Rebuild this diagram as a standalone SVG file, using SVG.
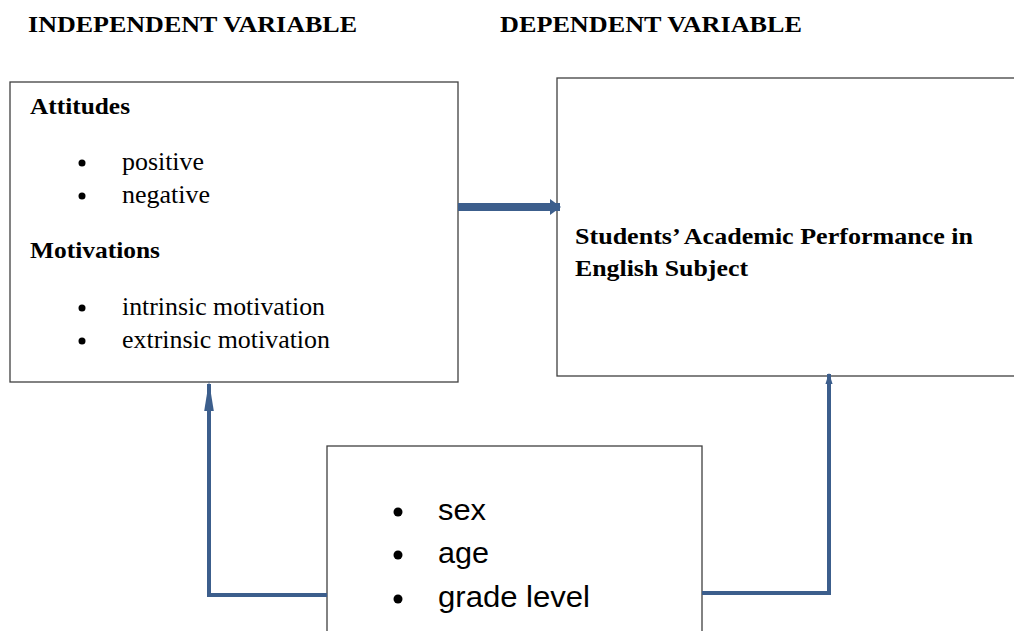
<svg xmlns="http://www.w3.org/2000/svg" width="1014" height="631" viewBox="0 0 1014 631">
<style>
.box{fill:#fff;stroke:#404040;stroke-width:1.3}
.hdr{font-family:"Liberation Serif",serif;font-weight:bold;font-size:24px;fill:#000}
.ttl{font-family:"Liberation Serif",serif;font-weight:bold;font-size:24px;fill:#000}
.itm{font-family:"Liberation Serif",serif;font-size:25px;fill:#000}
.sans{font-family:"Liberation Sans",Arial,sans-serif;font-size:30px;fill:#000}
.con{fill:none;stroke:#3C5E8C;stroke-width:4}
</style>
<defs>
<marker id="ahL" viewBox="0 0 10 10" refX="9" refY="5" markerWidth="7.5" markerHeight="2.4" orient="auto" markerUnits="strokeWidth" preserveAspectRatio="none">
<path d="M0,0 L10,5 L0,10 z" fill="#3C5E8C"/>
</marker>
<marker id="ahR" viewBox="0 0 10 10" refX="9" refY="5" markerWidth="2.8" markerHeight="1.8" orient="auto" markerUnits="strokeWidth" preserveAspectRatio="none">
<path d="M0,0 L10,5 L0,10 z" fill="#3C5E8C"/>
</marker>
<marker id="ah2" viewBox="0 0 10 10" refX="9" refY="5" markerWidth="1.4" markerHeight="2" orient="auto" markerUnits="strokeWidth" preserveAspectRatio="none">
<path d="M0,0 L10,5 L0,10 z" fill="#3C5E8C"/>
</marker>
</defs>
<rect width="1014" height="631" fill="#fff"/>
<g id="headers">
<text class="hdr" x="28" y="32" textLength="329" lengthAdjust="spacingAndGlyphs">INDEPENDENT VARIABLE</text>
<text class="hdr" x="500" y="32" textLength="302" lengthAdjust="spacingAndGlyphs">DEPENDENT VARIABLE</text>
</g>
<g id="independent">
<rect class="box" x="10" y="82" width="448" height="300"/>
<text class="ttl" x="30" y="114" textLength="100" lengthAdjust="spacingAndGlyphs">Attitudes</text>
<circle cx="82" cy="163" r="3.5"/>
<text class="itm" x="122" y="170" textLength="82" lengthAdjust="spacingAndGlyphs">positive</text>
<circle cx="82" cy="196" r="3.5"/>
<text class="itm" x="122" y="203" textLength="88" lengthAdjust="spacingAndGlyphs">negative</text>
<text class="ttl" x="30" y="258" textLength="130" lengthAdjust="spacingAndGlyphs">Motivations</text>
<circle cx="82" cy="308" r="3.5"/>
<text class="itm" x="122" y="315" textLength="203" lengthAdjust="spacingAndGlyphs">intrinsic motivation</text>
<circle cx="82" cy="341" r="3.5"/>
<text class="itm" x="122" y="348" textLength="208" lengthAdjust="spacingAndGlyphs">extrinsic motivation</text>
</g>
<g id="dependent">
<rect class="box" x="557" y="78" width="470" height="298"/>
<text class="ttl" x="575" y="244" textLength="398" lengthAdjust="spacingAndGlyphs">Students’ Academic Performance in</text>
<text class="ttl" x="575" y="276" textLength="173" lengthAdjust="spacingAndGlyphs">English Subject</text>
</g>
<g id="moderators">
<rect class="box" x="327" y="446" width="375" height="200"/>
<circle cx="398" cy="512" r="4.5"/>
<text class="sans" x="438" y="520" textLength="48" lengthAdjust="spacingAndGlyphs">sex</text>
<circle cx="398" cy="555" r="4.5"/>
<text class="sans" x="438" y="563" textLength="51" lengthAdjust="spacingAndGlyphs">age</text>
<circle cx="398" cy="599" r="4.5"/>
<text class="sans" x="438" y="607" textLength="152" lengthAdjust="spacingAndGlyphs">grade level</text>
</g>
<g id="connectors">
<path d="M458,207 H560" fill="none" stroke="#3C5E8C" stroke-width="8" marker-end="url(#ah2)"/>
<path class="con" d="M327,595 H209 V384" marker-end="url(#ahL)"/>
<path class="con" d="M702,593 H829 V374" marker-end="url(#ahR)"/>
</g>
</svg>
